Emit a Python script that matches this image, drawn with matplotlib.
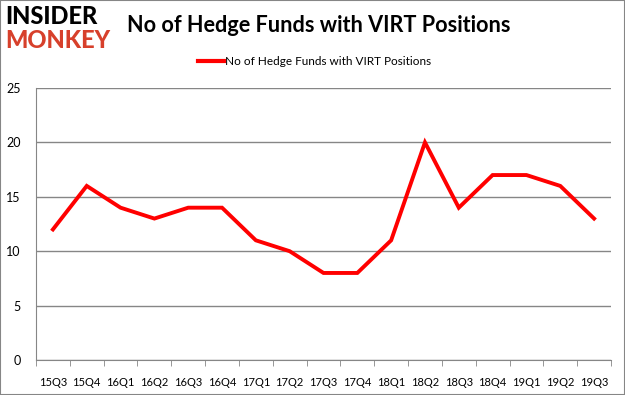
import matplotlib.pyplot as plt
import numpy as np
from matplotlib.lines import Line2D
from matplotlib.patches import Rectangle

# data
quarters = ['15Q3', '15Q4', '16Q1', '16Q2', '16Q3', '16Q4', '17Q1', '17Q2', '17Q3',
            '17Q4', '18Q1', '18Q2', '18Q3', '18Q4', '19Q1', '19Q2', '19Q3']
funds = [12, 16, 14, 13, 14, 14, 11, 10, 8, 8, 11, 20, 14, 17, 17, 16, 13]
y_ticks = [0, 5, 10, 15, 20, 25]

plt.rcParams['font.family'] = ['Lato', 'DejaVu Sans']

fig = plt.figure(figsize=(6.25, 3.95), dpi=100)
ax = fig.add_axes([0.0576, 0.0886, 0.92, 0.6886])

x = np.arange(len(quarters))
ax.plot(x, funds, color='#ff0000', linewidth=2.8, solid_joinstyle='miter')

ax.set_xlim(-0.5, len(quarters) - 0.5)
ax.set_ylim(0, 25)
ax.set_yticks(y_ticks)
ax.set_yticklabels([str(v) for v in y_ticks], fontsize=9)
ax.set_xticks(x)
ax.set_xticklabels(quarters, fontsize=8)
ax.set_xticks(np.arange(-0.5, len(quarters), 1), minor=True)
ax.tick_params(axis='x', which='major', length=0, pad=12)
ax.tick_params(axis='x', which='minor', length=4, color='#868686', direction='out')
ax.tick_params(axis='y', length=0, pad=11)
ax.grid(axis='y', color='#868686', linewidth=1)
ax.set_axisbelow(True)
for s in ['top', 'right']:
    ax.spines[s].set_visible(False)
for s in ['left', 'bottom']:
    ax.spines[s].set_color('#868686')

# title and logo
fig.text(0.51, 0.935, 'No of Hedge Funds with VIRT Positions', ha='center', va='center',
         fontsize=15.6, fontweight='bold')
fig.text(0.008, 0.957, 'INSIDER', ha='left', va='center', fontsize=17,
         fontweight='black', color='black')
fig.text(0.008, 0.897, 'MONKEY', ha='left', va='center', fontsize=17,
         fontweight='black', color='#d7402b')

# legend
handle = Line2D([], [], color='#ff0000', linewidth=3)
fig.legend([handle], ['No of Hedge Funds with VIRT Positions'], loc='center',
           bbox_to_anchor=(0.503, 0.845), frameon=False, fontsize=8.5, handlelength=2.2,
           handletextpad=0.1)

# outer border
fig.patches.append(Rectangle((0, 0), 1, 1, transform=fig.transFigure, fill=False,
                             edgecolor='#868686', linewidth=1.5))

fig.savefig('out.png', dpi=100)
